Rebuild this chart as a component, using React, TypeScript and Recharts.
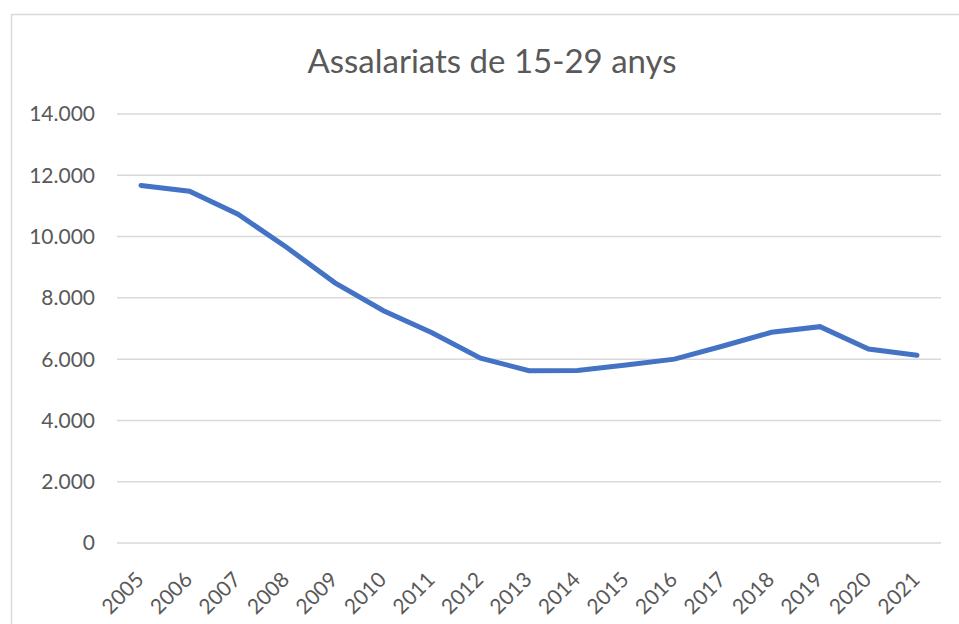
import React from 'react';
import { LineChart, Line, XAxis, YAxis, CartesianGrid } from 'recharts';

const years = ['2005','2006','2007','2008','2009','2010','2011','2012','2013','2014','2015','2016','2017','2018','2019','2020','2021'];
const assalariats = [11670, 11480, 10730, 9650, 8490, 7580, 6860, 6030, 5625, 5630, 5810, 6000, 6430, 6875, 7060, 6330, 6130];
const yTicks = [0, 2000, 4000, 6000, 8000, 10000, 12000, 14000];
const title = 'Assalariats de 15-29 anys';

const data = years.map((y, i) => ({ year: y, value: assalariats[i] }));

const fmt = (v: number) => (v === 0 ? '0' : v.toLocaleString('de-DE'));

const XTick = (props: any) => {
  const { x, y, payload } = props;
  return (
    <g transform={`translate(${x},${y})`}>
      <text x={4} y={30} textAnchor="end" transform="rotate(-45 4 30)" fill="#595959" fontSize={21} fontFamily="Lato">
        {payload.value}
      </text>
    </g>
  );
};

export default function App() {
  return (
    <div style={{ position: 'absolute', left: 0, top: 0, width: 959, height: 624, background: '#fff' }}>
      <svg width={959} height={624} style={{ position: 'absolute', left: 0, top: 0 }}>
        <rect x={11.5} y={14.5} width={1000} height={700} fill="none" stroke="#D9D9D9" strokeWidth={1.5} />
        <text x={492} y={73} textAnchor="middle" fill="#595959" fontSize={33} fontFamily="Lato">{title}</text>
      </svg>
      <div style={{ position: 'absolute', left: 0, top: 0 }}>
        <LineChart width={959} height={624} data={data} margin={{ top: 114, right: 18, bottom: 0, left: 0 }}>
          <CartesianGrid vertical={false} stroke="#D9D9D9" strokeWidth={1.5} />
          <XAxis dataKey="year" axisLine={false} tickLine={false} interval={0} tick={<XTick />} height={81} padding={{ left: 24, right: 24 }} />
          <YAxis domain={[0, 14000]} ticks={yTicks} tickFormatter={fmt} axisLine={false} tickLine={false} tickSize={0} tickMargin={22} width={117}
            tick={{ fill: '#595959', fontSize: 21, fontFamily: 'Lato' }} />
          <Line type="linear" dataKey="value" stroke="#4472C4" strokeWidth={5} dot={false} isAnimationActive={false} strokeLinecap="round" />
        </LineChart>
      </div>
    </div>
  );
}
